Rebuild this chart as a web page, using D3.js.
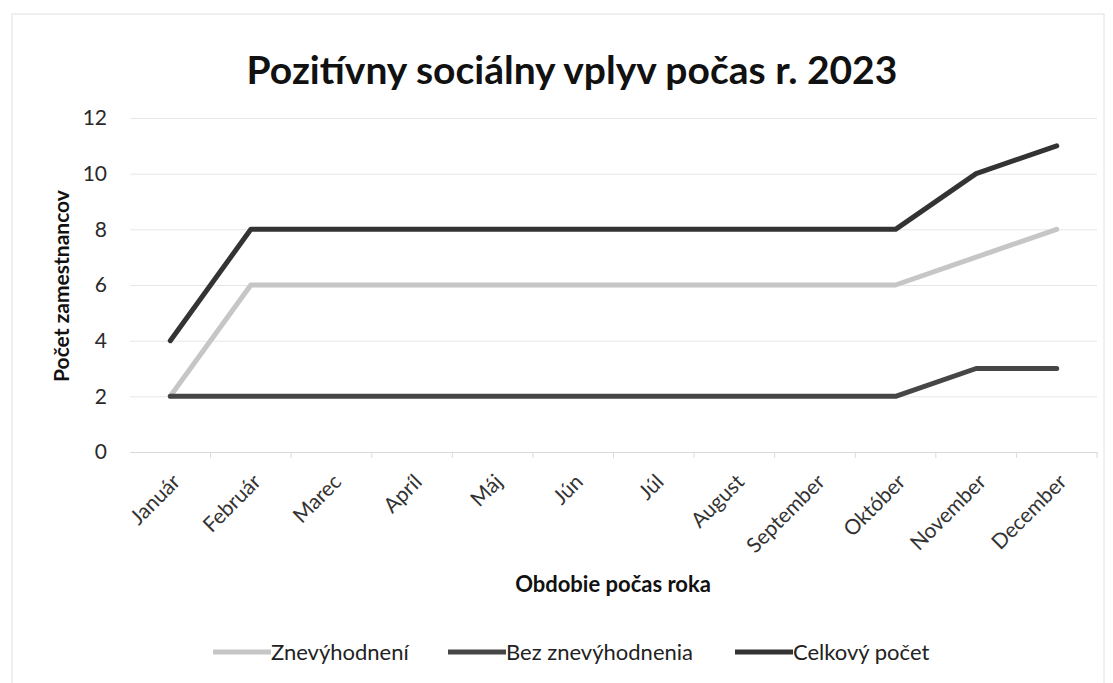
<!DOCTYPE html>
<html>
<head>
<meta charset="utf-8">
<style>
    body { margin: 0; background: #fff; }
    svg { display: block; font-family: Lato, sans-serif; }
    .grid line { stroke: #e6e6e6; stroke-width: 1; }
    .grid .domain { display: none; }
    .y .domain { display: none; }
    .y .tick line { display: none; }
    .y .tick text { font-size: 21px; fill: #2a2a2a; font-family: Lato, sans-serif; }
    .x .domain { stroke: #d9d9d9; }
    .x .tick text { font-size: 21px; fill: #333; font-family: Lato, sans-serif; }
</style>
</head>
<body>
<svg width="1113" height="683"></svg>
<script src="https://d3js.org/d3.v7.min.js"></script>
<script>
    // data
    const months = ["Január", "Február", "Marec", "Apríl", "Máj", "Jún", "Júl", "August", "September", "Október", "November", "December"];
    const znevyhodneni = [2, 6, 6, 6, 6, 6, 6, 6, 6, 6, 7, 8];
    const bezZnevyhodnenia = [2, 2, 2, 2, 2, 2, 2, 2, 2, 2, 3, 3];
    const celkovy = [4, 8, 8, 8, 8, 8, 8, 8, 8, 8, 10, 11];
    const seriesNames = ["Znevýhodnení", "Bez znevýhodnenia", "Celkový počet"];
    const yTicks = [0, 2, 4, 6, 8, 10, 12];

    const width = 1113, height = 683;
    const margin = { top: 118, right: 16, bottom: 231, left: 130 };
    const svg = d3.select("svg");

    // frame
    svg.append("rect")
        .attr("x", 12).attr("y", 14)
        .attr("width", 1092).attr("height", 680)
        .attr("fill", "none").attr("stroke", "#e2e2e2");

    let x = d3.scaleBand()
        .domain(months)
        .range([margin.left, width - margin.right]);

    let y = d3.scaleLinear()
        .domain([0, 12])
        .range([height - margin.bottom, margin.top]);

    // gridlines
    svg.append("g")
        .attr("class", "grid")
        .attr("transform", `translate(${margin.left},0)`)
        .call(d3.axisLeft(y).tickValues(yTicks).tickSize(-(width - margin.left - margin.right)).tickFormat(""));

    svg.append("g")
        .attr("class", "y axis")
        .attr("transform", `translate(${margin.left},0)`)
        .call(d3.axisLeft(y).tickValues(yTicks).tickSize(0).tickPadding(23));

    // x axis, ticks between categories
    let xAxis = svg.append("g")
        .attr("class", "x axis")
        .attr("transform", `translate(0,${height - margin.bottom})`)
        .call(d3.axisBottom(x).tickSize(0));

    xAxis.selectAll(".tick text")
        .attr("text-anchor", "end")
        .attr("y", 0)
        .attr("dy", "0.35em")
        .attr("transform", "translate(6,26) rotate(-45)");

    xAxis.selectAll(".sep")
        .data(months.slice(1).concat(["end"]))
        .join("line")
        .attr("class", "sep")
        .attr("x1", (d, i) => margin.left + x.step() * (i + 1))
        .attr("x2", (d, i) => margin.left + x.step() * (i + 1))
        .attr("y1", 0).attr("y2", 6)
        .attr("stroke", "#d9d9d9");

    // lines
    const allSeries = [
        { name: seriesNames[0], values: znevyhodneni, color: "#c6c6c6" },
        { name: seriesNames[1], values: bezZnevyhodnenia, color: "#464646" },
        { name: seriesNames[2], values: celkovy, color: "#333333" }
    ];

    let line = d3.line()
        .x((d, i) => x(months[i]) + x.bandwidth() / 2)
        .y(d => y(d));

    svg.append("g")
        .selectAll("path")
        .data(allSeries)
        .join("path")
        .attr("d", d => line(d.values))
        .attr("fill", "none")
        .attr("stroke", d => d.color)
        .attr("stroke-width", 5)
        .attr("stroke-linejoin", "round")
        .attr("stroke-linecap", "round");

    // title
    svg.append("text")
        .attr("x", 572).attr("y", 84)
        .attr("text-anchor", "middle")
        .attr("font-size", 39)
        .attr("font-weight", 700)
        .attr("fill", "#111")
        .text("Pozitívny sociálny vplyv počas r. 2023");

    svg.append("text")
        .attr("transform", "translate(69,286) rotate(-90)")
        .attr("text-anchor", "middle")
        .attr("font-size", 21)
        .attr("font-weight", 700)
        .attr("fill", "#111")
        .text("Počet zamestnancov");

    svg.append("text")
        .attr("x", 613).attr("y", 592)
        .attr("text-anchor", "middle")
        .attr("font-size", 22)
        .attr("font-weight", 700)
        .attr("fill", "#111")
        .text("Obdobie počas roka");

    // legend
    const legendX = [213, 448, 735];
    let legend = svg.append("g")
        .selectAll("g")
        .data(allSeries)
        .join("g")
        .attr("transform", (d, i) => `translate(${legendX[i]},652)`);

    legend.append("line")
        .attr("x1", 0).attr("x2", 58)
        .attr("stroke", d => d.color)
        .attr("stroke-width", 5);

    legend.append("text")
        .attr("x", 58).attr("dy", "0.35em")
        .attr("font-size", 22)
        .attr("fill", "#222")
        .text(d => d.name);
</script>
</body>
</html>
